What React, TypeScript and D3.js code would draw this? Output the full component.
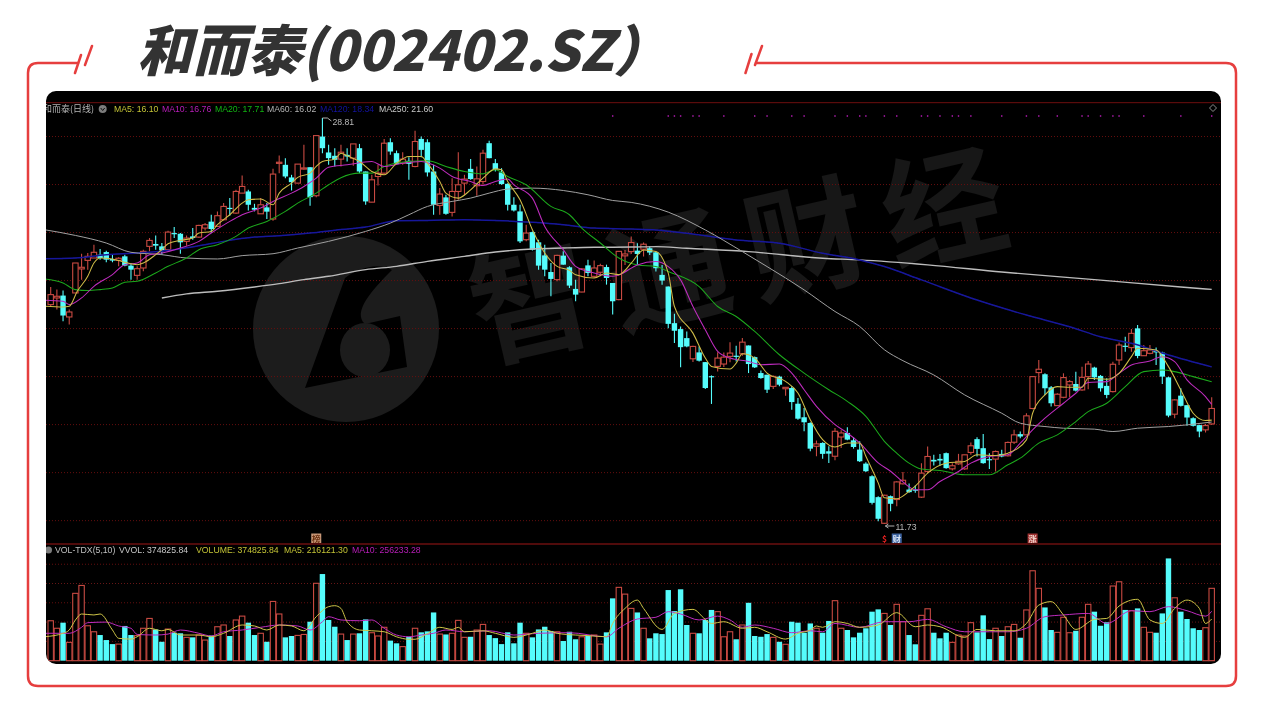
import React from "react";
import * as d3 from "d3";

const opens = [20.96,21.24,21.34,20.44,21.45,22.46,22.82,22.92,23.06,23.17,22.88,22.82,22.99,22.60,22.19,22.50,23.41,23.51,23.41,23.27,23.97,23.94,23.62,23.83,23.80,24.18,24.45,24.25,24.53,25.03,24.81,25.65,25.72,25.03,24.78,25.05,24.56,26.92,26.84,26.31,26.07,26.66,26.74,25.54,28.03,27.36,27.22,27.08,27.26,27.12,27.54,26.56,25.27,26.35,26.49,27.79,27.33,26.91,27.01,26.77,27.93,27.79,26.56,25.13,25.47,24.84,25.72,26.07,26.67,25.96,26.14,27.75,26.91,26.52,26.04,25.16,24.88,23.69,24.01,23.58,23.03,22.33,22.01,23.02,22.53,21.62,21.49,22.61,22.15,22.32,22.54,21.87,21.17,23.01,23.19,23.23,23.29,23.33,23.16,22.21,21.72,20.18,19.93,19.55,18.68,18.95,18.54,17.95,18.36,18.46,18.78,18.81,18.89,19.24,18.75,18.08,18.01,17.52,17.93,17.42,17.45,16.79,16.22,15.98,15.00,15.14,14.79,14.58,15.39,15.56,15.25,14.86,14.27,13.74,12.86,11.76,12.90,12.76,13.42,13.18,13.18,12.86,13.94,14.43,14.47,14.71,14.05,14.26,14.05,14.74,15.30,14.92,14.46,14.46,14.68,14.60,15.17,15.51,15.48,16.59,18.10,18.03,17.48,16.71,17.06,17.58,17.62,17.37,17.93,18.31,17.96,17.54,17.30,18.63,19.23,19.15,19.96,18.81,18.91,19.01,18.94,17.90,16.35,17.13,16.73,16.18,15.89,15.69,15.94];
const closes = [21.38,21.31,20.50,20.65,22.71,22.53,22.99,23.16,22.92,22.85,22.81,22.91,22.60,22.43,22.47,23.20,23.66,23.44,23.24,24.01,23.94,23.58,23.76,23.76,24.29,24.32,24.14,24.70,25.09,24.98,25.72,25.93,25.16,24.95,25.16,24.87,26.45,26.95,26.35,26.11,26.87,26.71,25.48,28.07,27.54,27.12,27.05,27.37,27.19,27.72,26.56,25.30,26.21,26.49,27.75,27.40,26.87,27.08,26.88,27.82,27.47,26.52,25.16,25.61,24.78,25.72,26.00,26.24,26.24,26.25,27.33,27.12,26.66,26.03,25.16,24.92,23.62,23.97,23.27,22.60,22.43,22.04,23.03,22.64,21.76,21.38,22.46,22.29,22.50,22.60,22.08,21.10,23.20,23.09,23.57,23.09,23.50,23.15,22.49,21.97,20.15,19.86,19.17,19.20,19.20,18.60,17.45,17.91,18.71,18.75,18.92,18.78,19.38,18.46,18.32,17.87,17.38,17.94,17.59,17.48,16.86,16.16,16.01,14.90,15.10,14.68,14.69,15.63,15.56,15.28,14.97,14.37,13.95,12.62,11.95,12.94,12.58,13.50,13.57,13.07,13.15,13.87,14.57,14.36,14.40,14.08,14.18,14.37,14.64,15.02,14.89,14.29,14.43,14.78,14.57,15.16,15.48,15.41,16.28,17.93,18.24,17.44,16.81,17.19,17.89,17.72,17.34,17.90,18.46,17.90,17.44,17.16,18.45,19.26,19.19,19.75,18.80,19.02,19.05,18.95,17.93,16.29,16.95,16.70,16.21,15.86,15.62,15.87,16.59];
const highs = [21.70,21.59,21.55,20.75,22.71,23.10,23.13,23.48,23.30,23.23,23.06,22.95,23.06,22.71,22.57,23.27,23.76,23.87,23.55,24.07,24.22,23.97,23.87,24.18,24.32,24.39,24.74,24.88,25.23,25.44,25.79,26.39,25.79,25.20,25.44,25.23,26.67,27.23,27.12,26.42,26.87,27.68,26.74,28.07,28.81,27.68,27.54,27.68,27.54,27.72,27.72,26.56,26.42,26.84,27.93,27.96,27.44,27.37,27.16,28.27,28.03,27.92,26.84,25.86,25.58,26.28,27.37,26.42,27.08,26.77,27.47,27.85,27.08,26.70,26.07,25.48,25.16,24.32,24.04,23.69,23.48,22.71,23.06,23.20,22.57,22.01,22.50,22.85,22.82,22.68,22.64,21.87,23.20,23.26,23.82,23.54,23.57,23.40,23.19,22.63,21.72,20.57,20.04,19.83,19.23,19.20,18.54,17.98,18.96,18.95,19.38,19.23,19.55,19.24,18.78,18.19,18.01,17.98,17.97,17.48,17.52,17.03,16.61,16.01,15.24,15.17,15.00,15.77,15.67,15.80,15.39,15.21,14.33,13.78,12.90,12.96,12.93,13.53,13.92,13.43,13.35,14.29,14.99,14.64,14.67,14.74,14.29,14.68,14.64,15.16,15.38,15.52,14.71,14.82,14.85,15.20,15.69,15.62,16.39,17.96,18.63,18.07,17.54,17.23,18.07,17.79,18.14,18.35,18.59,18.35,18.00,17.86,18.56,19.37,19.61,19.93,20.10,19.26,19.26,19.16,18.98,17.93,16.98,17.44,16.73,16.22,15.91,15.94,17.06];
const lows = [20.89,20.75,20.26,20.12,21.45,22.01,22.43,22.92,22.85,22.74,22.74,22.57,22.57,22.01,22.01,22.36,23.20,23.27,23.06,23.27,23.76,23.10,23.44,23.69,23.76,24.08,23.97,24.25,24.50,24.70,24.78,25.65,24.92,24.88,24.78,24.56,24.49,26.49,26.28,25.76,26.07,26.63,25.12,25.48,27.33,26.84,26.77,26.77,26.98,26.80,26.49,25.16,25.27,25.97,26.42,27.26,26.84,26.84,26.21,26.74,27.16,26.35,24.74,24.74,24.74,24.67,25.37,25.58,26.21,25.54,26.00,27.12,26.56,26.00,24.92,24.88,23.55,23.62,23.24,22.43,22.15,21.31,21.94,22.64,21.66,21.10,21.48,22.15,22.08,22.15,21.80,20.54,21.14,22.63,23.09,22.63,22.98,23.05,22.35,21.79,19.97,19.34,18.32,19.17,18.54,18.57,17.41,16.78,18.15,18.33,18.53,18.57,18.81,18.08,18.29,17.84,17.24,17.41,17.52,17.13,16.54,16.12,15.63,14.79,14.58,14.48,14.30,14.41,14.93,15.25,14.90,14.34,13.92,12.55,11.85,11.73,12.27,12.48,13.39,13.04,13.04,12.82,13.87,14.19,14.18,14.05,13.98,14.22,14.01,14.64,14.57,14.26,14.04,13.94,14.54,14.57,15.10,15.34,15.48,16.56,17.65,17.16,16.67,16.70,17.02,17.06,17.30,17.34,17.40,17.79,17.30,17.02,17.26,18.42,18.98,18.98,18.70,18.80,18.87,18.42,17.62,16.22,16.18,16.67,15.86,15.83,15.38,15.58,15.90];
const volumes = [207,168,197,95,349,390,181,150,133,107,86,86,180,133,130,168,219,162,98,164,145,142,121,121,133,107,130,176,185,128,211,231,197,133,142,98,307,242,121,128,131,136,202,401,449,211,176,138,107,138,142,214,145,128,173,104,90,73,124,168,147,152,250,138,136,142,209,121,124,159,188,133,117,86,147,90,197,142,121,162,176,154,150,102,150,111,124,128,133,86,147,323,380,345,271,250,168,116,142,138,366,257,370,185,142,142,211,263,254,124,150,111,185,300,128,124,138,121,98,85,202,197,145,193,168,145,206,311,168,159,121,145,168,254,266,245,185,292,202,133,85,235,269,145,116,145,95,133,128,197,147,235,112,168,128,176,188,119,263,466,375,276,159,147,225,145,155,225,292,254,181,199,387,409,263,259,271,173,147,145,245,530,326,254,216,168,159,171,375];

type Knot = [number, number];
const ma5: Knot[] = [[-1,20.89],[2,20.86],[3,20.89],[4.3,21.52],[6,22.15],[7,22.71],[8,22.92],[10,22.88],[12,22.74],[14,22.64],[15,22.71],[17,23.06],[18,23.27],[19,23.52],[21,23.66],[23,23.76],[24,23.97],[26,24.04],[27,24.32],[29,24.74],[31,25.23],[32,25.37],[34,25.40],[36,25.16],[37,25.65],[39,26.07],[40,26.31],[42,26.49],[43,26.77],[44,26.98],[46,27.08],[47,27.33],[48,27.22],[50,26.98],[52,26.56],[54,26.42],[56,26.91],[58,27.19],[60,27.19],[61,26.91],[63,26.14],[64,25.65],[66,25.44],[68,25.79],[70,26.28],[72,26.67],[73,26.63],[74,26.14],[76,25.37],[78,24.11],[80,23.13],[82,22.57],[84,22.40],[85,22.22],[88,22.08],[90,22.29],[92,22.22],[94,22.70],[96,23.26],[98,23.19],[100,22.28],[101,20.88],[104,19.76],[106,18.71],[107,18.36],[110,18.25],[111,18.50],[112,18.89],[114,18.71],[116,18.08],[119,17.73],[121,17.24],[123,16.12],[125,15.28],[127,14.97],[129,15.14],[131,15.14],[132,14.58],[134,13.46],[135,12.83],[137,12.79],[139,13.10],[140,13.32],[142,13.87],[145,14.29],[148,14.36],[150,14.64],[153,14.61],[155,14.71],[158,15.27],[159,16.39],[161,17.16],[163,17.51],[165,17.48],[167,17.48],[168,17.86],[171,17.82],[173,18.07],[175,18.77],[176,19.12],[179,19.05],[181,18.35],[183,17.37],[185,16.39],[187,16.08],[188,16.10]];
const ma10: Knot[] = [[-1,21.14],[2,21.10],[3,20.96],[5,21.24],[7,21.73],[10,22.22],[12,22.64],[14,22.71],[16,23.06],[18,23.13],[21,23.34],[24,23.62],[26,23.97],[29,24.46],[31,24.74],[34,25.02],[36,25.30],[39,25.65],[41,25.93],[43,26.28],[45,26.74],[48,26.84],[52,26.98],[54,26.77],[57,26.91],[60,26.98],[63,26.70],[65,26.35],[68,26.14],[70,25.97],[72,26.14],[74,26.24],[75,26.00],[78,25.44],[80,24.25],[83,23.27],[85,22.57],[88,22.29],[91,22.15],[92,22.21],[95,22.63],[98,22.77],[100,22.56],[102,22.00],[104,20.88],[106,19.90],[108,18.99],[110,18.71],[113,18.57],[115,18.43],[118,18.46],[120,18.08],[122,17.38],[124,16.68],[127,15.91],[129,15.56],[131,15.14],[134,14.30],[136,13.95],[138,13.50],[140,13.17],[142,13.17],[144,13.52],[147,13.94],[149,14.29],[152,14.57],[155,14.64],[157,15.13],[159,15.69],[161,16.18],[164,16.81],[166,17.23],[168,17.68],[171,17.72],[173,18.07],[175,18.42],[178,18.59],[180,18.77],[182,18.56],[184,17.79],[187,17.09],[188,16.76]];
const ma20: Knot[] = [[-1,22.04],[2,21.87],[4,21.59],[6,21.55],[8,21.59],[10,21.66],[12,21.90],[14,21.94],[17,22.29],[19,22.57],[22,22.92],[24,23.27],[27,23.48],[30,23.83],[32,24.18],[35,24.46],[38,24.88],[40,25.23],[43,25.65],[45,26.00],[47,26.30],[50,26.49],[52,26.49],[54,26.77],[58,26.98],[61,27.01],[64,26.77],[67,26.56],[70,26.46],[72,26.63],[74,26.35],[77,26.00],[81,25.09],[84,24.74],[86,24.18],[89,23.55],[92,22.92],[95,22.63],[98,22.56],[100,22.35],[105,21.72],[108,20.88],[111,20.46],[114,19.83],[118,18.85],[122,18.08],[126,17.38],[129,16.89],[132,16.26],[135,15.21],[137,14.71],[139,14.29],[141,14.04],[144,13.98],[148,13.80],[152,13.80],[155,14.22],[157,14.50],[160,15.13],[163,15.48],[166,16.04],[168,16.46],[171,16.81],[174,17.51],[177,18.14],[180,18.21],[182,18.14],[185,17.93],[188,17.71]];
const ma60: Knot[] = [[-1,24.11],[4,23.87],[9,23.55],[13,23.16],[18,23.06],[22,22.92],[27,22.88],[31,23.02],[36,23.10],[40,23.34],[45,23.62],[51,24.04],[55,24.39],[58,24.74],[61,25.09],[65,25.30],[68,25.44],[71,25.65],[74,25.82],[78,25.86],[83,25.76],[87,25.58],[91,25.34],[94,25.26],[100,24.85],[106,24.10],[112,23.19],[116,22.56],[122,21.58],[127,20.67],[131,20.04],[135,19.06],[138,18.60],[143,18.00],[148,17.16],[154,16.39],[157,15.97],[161,15.83],[164,15.76],[169,15.72],[172,15.62],[176,15.76],[181,15.83],[184,15.90],[188,16.02]];
const ma120: Knot[] = [[-1,22.89],[4,22.92],[9,23.06],[14,23.13],[20,23.27],[25,23.48],[28,23.62],[33,23.80],[37,23.86],[42,23.97],[47,24.12],[51,24.22],[56,24.49],[61,24.50],[67,24.53],[72,24.50],[78,24.42],[83,24.32],[88,24.18],[94,24.14],[98,24.10],[103,23.96],[111,23.68],[118,23.54],[125,23.12],[131,22.84],[135,22.56],[141,22.00],[150,21.15],[158,20.52],[165,20.03],[170,19.61],[175,19.33],[181,18.84],[188,18.34]];
const ma250: Knot[] = [[18,21.24],[22,21.41],[27,21.52],[33,21.70],[37,21.84],[41,22.01],[45,22.15],[51,22.43],[56,22.57],[61,22.78],[67,22.99],[72,23.17],[78,23.30],[83,23.34],[88,23.37],[94,23.38],[98,23.40],[103,23.33],[113,23.19],[125,22.91],[131,22.84],[142,22.63],[154,22.33],[170,21.99],[183,21.70],[188,21.60]];
const volMa5: Knot[] = [[-1,124],[2,142],[3,159],[4,211],[5,242],[7,237],[8,242],[10,159],[11,116],[13,112],[14,124],[16,168],[18,155],[19,162],[21,133],[24,133],[26,124],[28,142],[31,185],[33,180],[35,159],[37,185],[39,180],[41,155],[43,228],[45,280],[46,285],[47,271],[48,202],[50,159],[52,155],[54,150],[56,124],[58,111],[59,111],[61,140],[63,173],[65,162],[66,173],[67,150],[70,155],[72,142],[75,121],[78,142],[80,159],[82,142],[85,133],[87,130],[90,124],[91,193],[93,271],[95,314],[96,271],[99,162],[101,245],[104,266],[106,214],[107,193],[109,202],[112,168],[114,173],[116,150],[119,112],[121,142],[123,159],[124,180],[125,173],[127,202],[129,193],[131,173],[134,185],[137,249],[140,176],[142,185],[144,176],[148,121],[150,162],[153,155],[156,155],[158,193],[160,288],[162,306],[164,237],[166,162],[169,214],[171,219],[173,283],[176,318],[178,211],[180,193],[182,271],[184,314],[186,271],[187,193],[188,216]];
const volMa10: Knot[] = [[-1,142],[3,142],[5,173],[6,197],[9,200],[11,180],[13,168],[14,136],[17,133],[19,138],[21,159],[24,142],[26,128],[28,150],[31,159],[34,173],[37,185],[40,180],[42,159],[44,202],[45,228],[47,211],[50,207],[52,211],[54,168],[56,133],[58,124],[60,133],[62,142],[64,159],[67,150],[71,155],[75,133],[79,142],[84,145],[90,124],[92,168],[95,216],[98,225],[100,254],[102,242],[105,211],[108,231],[110,211],[112,173],[114,185],[117,168],[120,145],[123,155],[125,150],[127,193],[131,173],[135,202],[139,202],[142,214],[145,176],[148,150],[152,150],[155,150],[158,168],[161,228],[164,237],[168,245],[171,193],[175,259],[178,254],[181,280],[184,259],[187,231],[188,256]];

const priceGrid = [28.03, 26.01, 23.99, 21.97, 19.95, 17.93, 15.91, 13.89, 11.87];
const volGrid = [100, 200, 300, 400, 500];
const signalDots = [91,100,101,102,104,105,109,114,116,120,122,127,129,131,132,135,137,141,142,144,146,147,149,154,158,160,163,167,168,170,172,173,177,183,188];
const priceLegend = [
  { text: "MA5: 16.10", color: "#c4c436", x: 114 },
  { text: "MA10: 16.76", color: "#b81eb8", x: 162 },
  { text: "MA20: 17.71", color: "#14b414", x: 215 },
  { text: "MA60: 16.02", color: "#b4b4b4", x: 267 },
  { text: "MA120: 18.34", color: "#1414a0", x: 320 },
  { text: "MA250: 21.60", color: "#c8c8c8", x: 379 },
];
const volLegend = [
  { text: "VOL-TDX(5,10)", color: "#c0c0c0", x: 55 },
  { text: "VVOL: 374825.84", color: "#c8c8c8", x: 119 },
  { text: "VOLUME: 374825.84", color: "#c4c436", x: 196 },
  { text: "MA5: 216121.30", color: "#c4c436", x: 284 },
  { text: "MA10: 256233.28", color: "#b81eb8", x: 352 },
];
const eventTags = [
  { text: "榜", i: 43, bg: "#c89878", fg: "#6a3010" },
  { text: "$", i: 135, bg: "#000000", fg: "#e02020" },
  { text: "财", i: 137, bg: "#3c64a0", fg: "#d8e4f4" },
  { text: "涨", i: 159, bg: "#a03030", fg: "#f0d0c8" },
];

const RED = "#c84a42";
const CYAN = "#54fcfc";
const FONT = "'Liberation Sans', Arial, sans-serif";
const CJK = "'Noto Sans CJK SC', sans-serif";

const x = d3.scaleLinear().domain([0, 188]).range([50.7, 1211.7]);
const y = d3.scaleLinear().domain([28.81, 11.73]).range([118, 524]);
const yv = d3.scaleLinear().domain([0, 500]).range([660.7, 564.2]);
const priceLine = d3.line<Knot>().x((d) => x(d[0])).y((d) => y(d[1])).curve(d3.curveMonotoneX);
const volLine = d3.line<Knot>().x((d) => x(d[0])).y((d) => yv(d[1])).curve(d3.curveMonotoneX);

export default function App() {
  const hiIdx = d3.range(opens.length).reduce((a, b) => (highs[b] > highs[a] ? b : a), 0);
  const loIdx = d3.range(opens.length).reduce((a, b) => (lows[b] < lows[a] ? b : a), 0);
  const bw = 5.4;
  return (
    <svg
      width={1265}
      height={713}
      viewBox="0 0 1265 713"
      style={{ position: "absolute", left: 0, top: 0, background: "#fff", display: "block" }}
    >
      <defs>
        <clipPath id="panel">
          <rect x={46} y={91} width={1175} height={573} rx={10} />
        </clipPath>
        <filter id="soft" x="-2%" y="-2%" width="104%" height="104%">
          <feGaussianBlur stdDeviation={0.22} />
        </filter>
      </defs>

      <text x={137} y={71} fontFamily={CJK} fontWeight={900} fontStyle="italic" fontSize={55} fill="#333">
        和而泰(002402.SZ）
      </text>

      <g fill="none" stroke="#e63e3e" strokeWidth={2.5} strokeLinecap="round">
        <path d="M78,63 H38 Q28,63 28,73 V676 Q28,686 38,686 H1226 Q1236,686 1236,676 V73 Q1236,63 1226,63 H756" />
        <path d="M75,73 L81,55 M85,65 L92,46 M745.5,73 L751.5,54 M755,65 L762,46" />
      </g>

      <rect x={46} y={91} width={1175} height={573} rx={10} fill="#000" />

      <g clipPath="url(#panel)">
        {/* watermark */}
        <circle cx={346} cy={329} r={93} fill="#1c1c1c" />
        <path d="M345,278 L305,388 L407,367 L400,316 L365,324 C352,312 372,290 392,270 C378,262 358,268 345,278 Z" fill="#000" />
        <ellipse cx={365} cy={350} rx={25} ry={27} fill="#1c1c1c" />
        <text
          x={745}
          y={245}
          transform="rotate(-13 745 245)"
          textAnchor="middle"
          dominantBaseline="central"
          fontFamily={CJK}
          fontWeight={700}
          fontSize={122}
          letterSpacing={19}
          fill="#171717"
        >
          智通财经
        </text>

        <g filter="url(#soft)">
          {/* grid */}
          <line x1={46} x2={1221} y1={102.7} y2={102.7} stroke="#6e1010" />
          {priceGrid.map((p) => (
            <line key={p} x1={46} x2={1221} y1={y(p)} y2={y(p)} stroke="#661212" strokeDasharray="1 2" />
          ))}
          {volGrid.map((v) => (
            <line key={v} x1={46} x2={1221} y1={yv(v)} y2={yv(v)} stroke="#661212" strokeDasharray="1 2" />
          ))}
          <line x1={46} x2={1221} y1={544} y2={544} stroke="#a01818" strokeWidth={1.2} />

          {signalDots.map((i) => (
            <rect key={i} x={x(i) - 0.7} y={115.3} width={1.4} height={1.4} fill="#c020c0" />
          ))}

          {/* candles */}
          {opens.map((o, i) => {
            const c = closes[i];
            const up = c >= o;
            const color = up ? RED : CYAN;
            const top = y(Math.max(o, c));
            const bot = y(Math.min(o, c));
            const cx = x(i);
            return (
              <g key={i}>
                <line x1={cx} x2={cx} y1={y(highs[i])} y2={y(lows[i])} stroke={color} strokeWidth={1.1} />
                <rect
                  x={cx - bw / 2}
                  y={top}
                  width={bw}
                  height={Math.max(bot - top, 1.2)}
                  fill={up ? "#000" : CYAN}
                  stroke={up ? RED : "none"}
                  strokeWidth={1.1}
                />
              </g>
            );
          })}

          {/* price MAs */}
          <path d={priceLine(ma250)!} fill="none" stroke="#bcbcbc" strokeWidth={1.4} />
          <path d={priceLine(ma120)!} fill="none" stroke="#18189c" strokeWidth={1.5} />
          <path d={priceLine(ma60)!} fill="none" stroke="#a0a0a0" strokeWidth={1} />
          <path d={priceLine(ma20)!} fill="none" stroke="#1ca81c" strokeWidth={1.05} />
          <path d={priceLine(ma10)!} fill="none" stroke="#be2cbe" strokeWidth={1.05} />
          <path d={priceLine(ma5)!} fill="none" stroke="#d0bc48" strokeWidth={1.05} />

          {/* extremes */}
          <path
            d={`M${x(hiIdx)},${y(highs[hiIdx])} H${x(hiIdx) + 5} M${x(hiIdx) + 5},${y(highs[hiIdx])} L${x(hiIdx) + 9},${y(highs[hiIdx]) + 3}`}
            stroke="#b0b0b0"
            fill="none"
          />
          <text x={x(hiIdx) + 10} y={y(highs[hiIdx]) + 6.5} fontFamily={FONT} fontSize={8.7} fill="#b8b8b8">
            {highs[hiIdx].toFixed(2)}
          </text>
          <path
            d={`M${x(loIdx) + 1},${y(lows[loIdx]) + 2} h9 M${x(loIdx) + 1},${y(lows[loIdx]) + 2} l3,-2 M${x(loIdx) + 1},${y(lows[loIdx]) + 2} l3,2`}
            stroke="#b0b0b0"
            fill="none"
          />
          <text x={x(loIdx) + 11} y={y(lows[loIdx]) + 5.5} fontFamily={FONT} fontSize={8.7} fill="#b8b8b8">
            {lows[loIdx].toFixed(2)}
          </text>

          {/* event tags */}
          {eventTags.map((t) => (
            <g key={t.text}>
              <rect x={x(t.i) - 5} y={533.5} width={10} height={9.5} fill={t.bg} />
              <text
                x={x(t.i)}
                y={541.5}
                textAnchor="middle"
                fontFamily={CJK}
                fontSize={8.5}
                fontWeight={700}
                fill={t.fg}
              >
                {t.text}
              </text>
            </g>
          ))}

          {/* volume */}
          {volumes.map((v, i) => {
            const up = closes[i] >= opens[i];
            return (
              <rect
                key={i}
                x={x(i) - bw / 2}
                y={yv(v)}
                width={bw}
                height={yv(0) - yv(v)}
                fill={up ? "#000" : CYAN}
                stroke={up ? RED : "none"}
                strokeWidth={1.1}
              />
            );
          })}
          <path d={volLine(volMa10)!} fill="none" stroke="#be2cbe" strokeWidth={1} />
          <path d={volLine(volMa5)!} fill="none" stroke="#cfc648" strokeWidth={1} />

          {/* headers */}
          <text x={43} y={112} fontFamily={CJK} fontSize={9} fill="#b4b4b4">
            和而泰(日线)
          </text>
          <circle cx={102.7} cy={109} r={4} fill="#7c7c7c" />
          <path d="M100.7,108 L102.7,110.5 L104.7,108" fill="none" stroke="#111" />
          {priceLegend.map((l) => (
            <text key={l.text} x={l.x} y={112} fontFamily={FONT} fontSize={8.7} fill={l.color}>
              {l.text}
            </text>
          ))}
          <circle cx={48.5} cy={550} r={3.5} fill="#7c7c7c" />
          {volLegend.map((l) => (
            <text key={l.text} x={l.x} y={553} fontFamily={FONT} fontSize={8.7} fill={l.color}>
              {l.text}
            </text>
          ))}
          <path d="M1213,104.5 L1216.5,108 L1213,111.5 L1209.5,108 Z" fill="none" stroke="#8c8c8c" />
        </g>
      </g>
    </svg>
  );
}
